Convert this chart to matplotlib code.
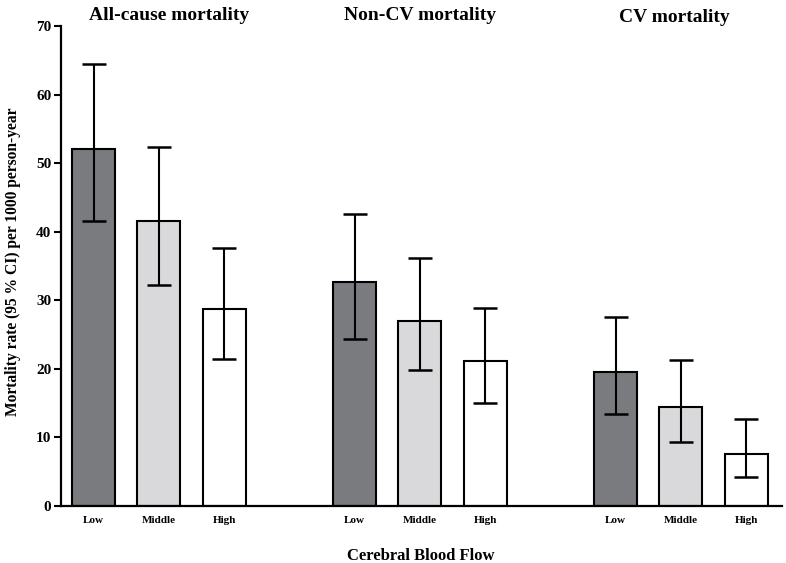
import numpy as np
import matplotlib
matplotlib.use("Agg")
import matplotlib.pyplot as plt

# Data
outcomes = ["All-cause mortality", "Non-CV mortality", "CV mortality"]
cbf_levels = ["Low", "Middle", "High"]
rates = [
    [52.1, 41.5, 28.7],
    [32.6, 27.0, 21.1],
    [19.5, 14.4, 7.6],
]
ci_low = [
    [41.6, 32.3, 21.5],
    [24.4, 19.8, 15.0],
    [13.4, 9.4, 4.2],
]
ci_high = [
    [64.5, 52.4, 37.6],
    [42.6, 36.1, 28.9],
    [27.5, 21.3, 12.7],
]
level_colors = ["#7a7b7f", "#d9d9db", "#ffffff"]

plt.rcParams["font.family"] = ["Liberation Serif", "DejaVu Serif"]
plt.rcParams["font.weight"] = "bold"

fig = plt.figure(figsize=(7.86, 5.63), dpi=100)
ax = fig.add_axes([61 / 786, 1 - 506 / 563, (782 - 61) / 786, (506 - 26) / 563])

group_step = 4
width = 0.66
positions, labels = [], []
for g, outcome in enumerate(outcomes):
    x = np.arange(3) + g * group_step
    vals = np.array(rates[g])
    lo = vals - np.array(ci_low[g])
    hi = np.array(ci_high[g]) - vals
    ax.bar(x, vals, width=width, color=level_colors, edgecolor="black",
           linewidth=1.5, zorder=2)
    ax.errorbar(x, vals, yerr=[lo, hi], fmt="none", ecolor="black",
                elinewidth=1.5, capsize=8.3, capthick=1.8, zorder=3)
    positions.extend(x)
    labels.extend(cbf_levels)

# group titles above the axes
title_x = [1.15, 5.0, 8.9]
title_y = [71.6, 71.5, 71.2]
for tx, ty, name in zip(title_x, title_y, outcomes):
    ax.text(tx, ty, name, ha="center", va="center", fontsize=14,
            fontweight="bold", clip_on=False)

ax.set_xlim(-0.5, 10.55)
ax.set_ylim(0, 70)
ax.set_yticks(np.arange(0, 71, 10))
ax.set_xticks(positions)
ax.set_xticklabels(labels, fontsize=8, fontweight="bold")
ax.tick_params(axis="x", length=0, pad=7)
ax.tick_params(axis="y", length=5, width=1.5, labelsize=11, pad=2)

for side in ["top", "right"]:
    ax.spines[side].set_visible(False)
for side in ["left", "bottom"]:
    ax.spines[side].set_linewidth(1.6)

ax.set_ylabel("Mortality rate (95 % CI) per 1000 person-year", fontsize=11.2,
              fontweight="bold")
ax.yaxis.set_label_coords(-(61 - 21) / (782 - 61), (506 - 262) / 480)
ax.set_xlabel("Cerebral Blood Flow", fontsize=12, fontweight="bold")
ax.xaxis.set_label_coords((421 - 61) / (782 - 61), -(548 - 506) / 480)

fig.savefig("out.png", dpi=100)
